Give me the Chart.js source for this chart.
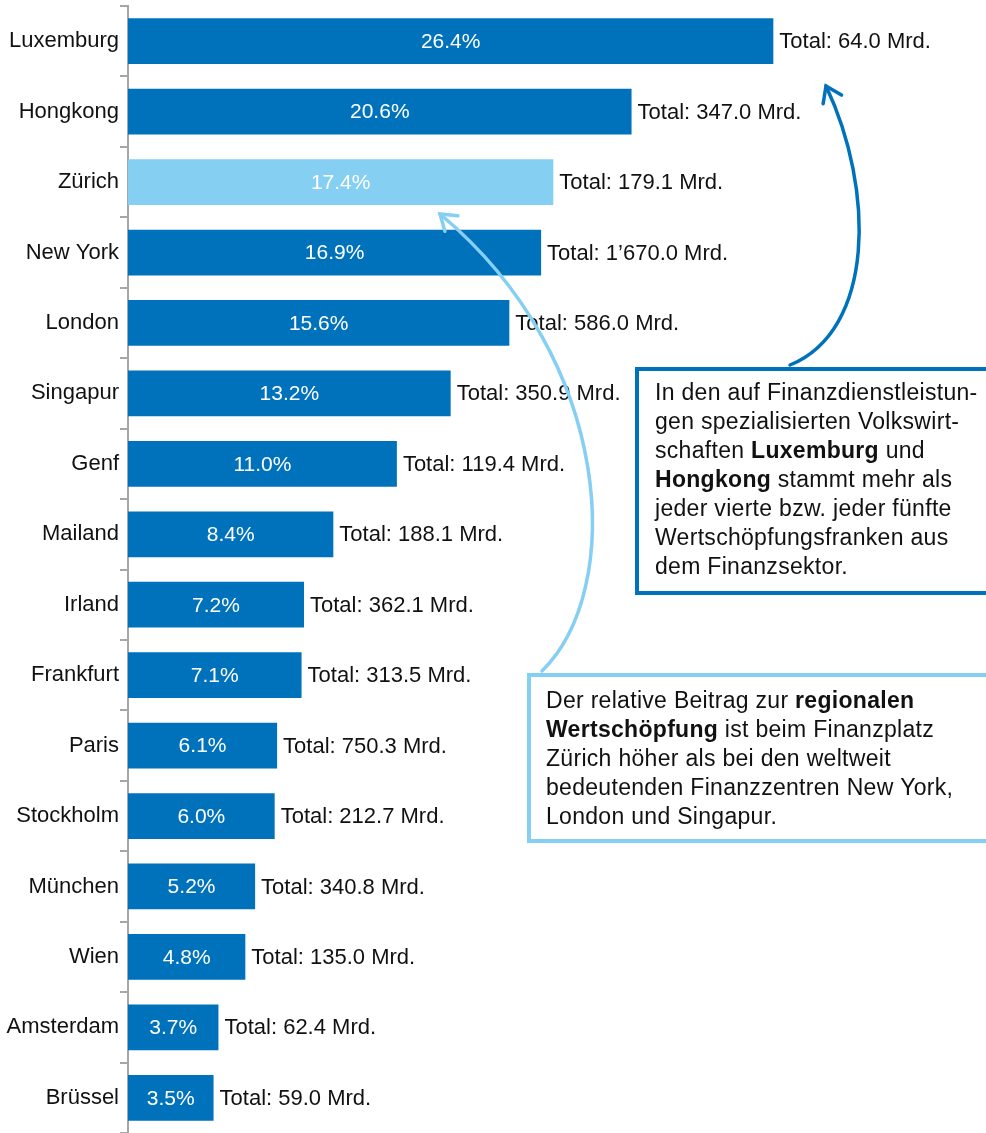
<!DOCTYPE html>
<html lang="de">
<head>
  <meta charset="UTF-8">
  <title>Finanzsektor Anteil Wertschöpfung</title>
  <script src="https://cdn.jsdelivr.net/npm/chart.js"></script>
  <style>
    html, body { margin: 0; padding: 0; background: #fff; }
    canvas { display: block; }
  </style>
</head>
<body>
  <canvas id="chart" width="986" height="1133"></canvas>

  <script>
    const cities = ['Luxemburg', 'Hongkong', 'Zürich', 'New York', 'London', 'Singapur', 'Genf', 'Mailand',
      'Irland', 'Frankfurt', 'Paris', 'Stockholm', 'München', 'Wien', 'Amsterdam', 'Brüssel'];
    const shares = [26.4, 20.6, 17.4, 16.9, 15.6, 13.2, 11.0, 8.4, 7.2, 7.1, 6.1, 6.0, 5.2, 4.8, 3.7, 3.5];
    const totals = [64.0, 347.0, 179.1, 1670.0, 586.0, 350.9, 119.4, 188.1, 362.1, 313.5, 750.3, 212.7, 340.8, 135.0, 62.4, 59.0];
    const highlight = 'Zürich';

    const DARK = '#0072bc';
    const LIGHT = '#85cff3';
    const FONT = "'Liberation Sans', Arial, sans-serif";

    // Texte der beiden Kästen: [text, fett]
    const noteDark = [
      [['In den auf Finanzdienstleistun-', false]],
      [['gen spezialisierten Volkswirt-', false]],
      [['schaften ', false], ['Luxemburg', true], [' und', false]],
      [['Hongkong', true], [' stammt mehr als', false]],
      [['jeder vierte bzw. jeder fünfte', false]],
      [['Wertschöpfungsfranken aus', false]],
      [['dem Finanzsektor.', false]]
    ];
    const noteLight = [
      [['Der relative Beitrag zur ', false], ['regionalen', true]],
      [['Wertschöpfung', true], [' ist beim Finanzplatz', false]],
      [['Zürich höher als bei den weltweit', false]],
      [['bedeutenden Finanzzentren New York,', false]],
      [['London und Singapur.', false]]
    ];

    function fmtTotal(v) {
      const parts = v.toFixed(1).split('.');
      const int = parts[0].replace(/\B(?=(\d{3})+(?!\d))/g, '\u2019');
      return 'Total: ' + int + '.' + parts[1] + ' Mrd.';
    }

    const barLabels = {
      id: 'barLabels',
      afterDatasetsDraw(chart) {
        const ctx = chart.ctx;
        const meta = chart.getDatasetMeta(0);
        ctx.save();
        ctx.textBaseline = 'middle';
        meta.data.forEach((bar, i) => {
          ctx.font = '21px ' + FONT;
          ctx.fillStyle = '#fff';
          ctx.textAlign = 'center';
          ctx.fillText(shares[i].toFixed(1) + '%', (bar.base + bar.x) / 2, bar.y + 1);
          ctx.font = '22px ' + FONT;
          ctx.fillStyle = '#111';
          ctx.textAlign = 'left';
          ctx.fillText(fmtTotal(totals[i]), bar.x + 6, bar.y + 1);
        });
        ctx.restore();
      }
    };

    function drawNote(ctx, lines, x, y, step) {
      ctx.letterSpacing = '0.3px';
      lines.forEach((segs, li) => {
        let cx = x;
        segs.forEach(([t, bold]) => {
          ctx.font = (bold ? 'bold ' : '') + '23px ' + FONT;
          ctx.fillText(t, cx, y + li * step);
          cx += ctx.measureText(t).width;
        });
      });
      ctx.letterSpacing = '0px';
    }

    function drawArrow(ctx, p, color) {
      ctx.strokeStyle = color;
      ctx.lineWidth = 3.5;
      ctx.lineCap = 'round';
      ctx.beginPath();
      ctx.moveTo(p[0][0], p[0][1]);
      ctx.bezierCurveTo(p[1][0], p[1][1], p[2][0], p[2][1], p[3][0], p[3][1]);
      ctx.stroke();
      const ang = Math.atan2(p[3][1] - p[2][1], p[3][0] - p[2][0]);
      const len = 18;
      ctx.beginPath();
      ctx.moveTo(p[3][0] - len * Math.cos(ang - 0.6), p[3][1] - len * Math.sin(ang - 0.6));
      ctx.lineTo(p[3][0], p[3][1]);
      ctx.lineTo(p[3][0] - len * Math.cos(ang + 0.6), p[3][1] - len * Math.sin(ang + 0.6));
      ctx.stroke();
    }

    const notes = {
      id: 'notes',
      afterDraw(chart) {
        const ctx = chart.ctx;
        ctx.save();
        // Pfeile
        drawArrow(ctx, [[542, 671], [625, 590], [615, 360], [440, 214]], LIGHT);
        drawArrow(ctx, [[790, 365], [875, 330], [875, 190], [826, 86]], DARK);
        // Kästen
        ctx.lineWidth = 4;
        ctx.fillStyle = '#fff';
        ctx.fillRect(637, 369, 360, 224);
        ctx.strokeStyle = DARK;
        ctx.strokeRect(637, 369, 360, 224);
        ctx.fillRect(529, 675, 470, 166);
        ctx.strokeStyle = LIGHT;
        ctx.strokeRect(529, 675, 470, 166);
        ctx.fillStyle = '#111';
        ctx.textBaseline = 'middle';
        ctx.textAlign = 'left';
        drawNote(ctx, noteDark, 655, 394, 29);
        drawNote(ctx, noteLight, 546, 702, 29);
        ctx.restore();
      }
    };

    new Chart(document.getElementById('chart').getContext('2d'), {
      type: 'bar',
      data: {
        labels: cities,
        datasets: [{
          data: shares,
          backgroundColor: cities.map(c => c === highlight ? LIGHT : DARK),
          barPercentage: 0.65,
          categoryPercentage: 1
        }]
      },
      options: {
        indexAxis: 'y',
        responsive: false,
        animation: false,
        layout: { padding: { top: 6, right: 0, bottom: 0, left: 0 } },
        plugins: { legend: { display: false }, tooltip: { enabled: false } },
        scales: {
          x: { type: 'linear', min: 0, max: 35.1, display: false },
          y: {
            afterFit(scale) {
              scale.width = 128;
              scale.paddingTop = 0;
              scale.paddingBottom = 0;
            },
            ticks: { color: '#111', font: { size: 22, family: FONT }, padding: 1 },
            grid: { drawOnChartArea: false, drawTicks: true, tickLength: 8, color: '#a6a6a6', lineWidth: 2, offset: true },
            border: { color: '#a6a6a6', width: 2 }
          }
        }
      },
      plugins: [barLabels, notes]
    });
  </script>
</body>
</html>
